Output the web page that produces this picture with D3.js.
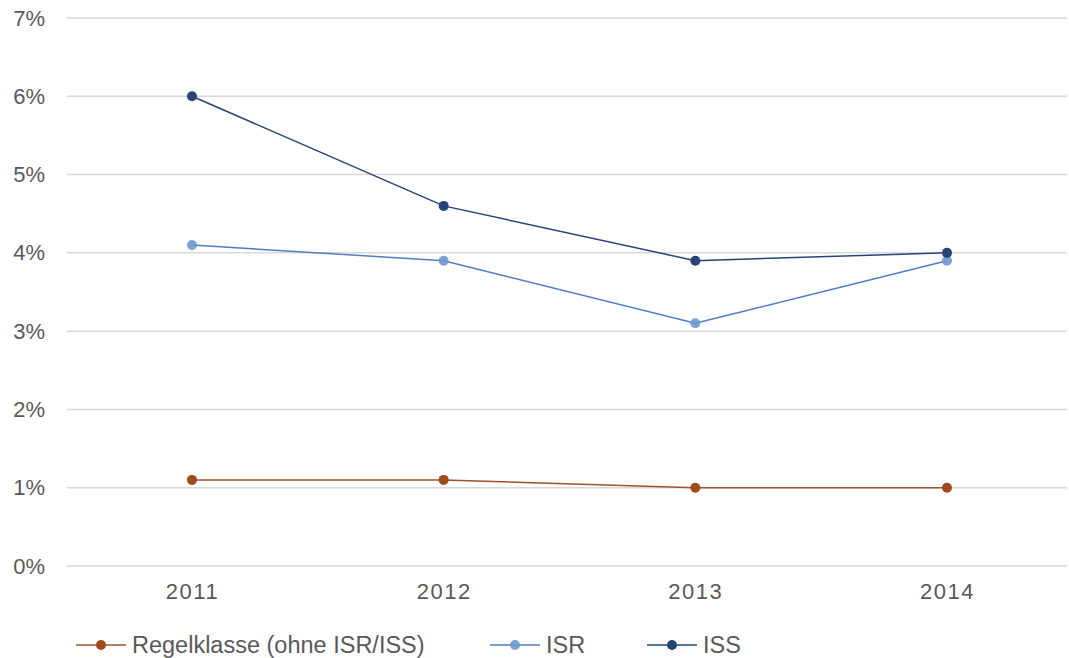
<!DOCTYPE html>
<html>
<head>
<meta charset="utf-8">
<script src="https://cdn.jsdelivr.net/npm/d3@7"></script>
<style>
  html, body { margin: 0; padding: 0; background: #fff; }
  svg { display: block; font-family: "Liberation Sans", Arial, sans-serif; }
</style>
</head>
<body>
<svg id="chart" width="1069" height="658"></svg>
<script>
// Anteil nach Schulart, 2011–2014
const years = ["2011", "2012", "2013", "2014"];
const regelklasse = [1.1, 1.1, 1.0, 1.0];
const isr = [4.1, 3.9, 3.1, 3.9];
const iss = [6.0, 4.6, 3.9, 4.0];
const yTicks = [0, 1, 2, 3, 4, 5, 6, 7];

const series = [
  { name: "Regelklasse (ohne ISR/ISS)", values: regelklasse, line: "#A0522D", fill: "#9E4A1E", fillOpacity: 1 },
  { name: "ISR", values: isr, line: "#4F7CC0", fill: "#7097CE", fillOpacity: 0.9 },
  { name: "ISS", values: iss, line: "#264478", fill: "#264478", fillOpacity: 1 }
];

const svg = d3.select("#chart");
const plotLeft = 67, plotRight = 1067;
const textColor = "#595959";

const x = d3.scalePoint().domain(years).range([192, 947]);
const y = d3.scaleLinear().domain([0, 7]).range([566, 18]);

// Gridlines
svg.append("g")
  .selectAll("line")
  .data(yTicks)
  .join("line")
  .attr("x1", plotLeft).attr("x2", plotRight)
  .attr("y1", d => y(d)).attr("y2", d => y(d))
  .attr("stroke", "#d9d9d9").attr("stroke-width", 1.5);

// Y axis labels
const yAxis = d3.axisLeft(y).tickValues(yTicks).tickFormat(d => d + "%").tickSize(0).tickPadding(0);
svg.append("g")
  .attr("transform", "translate(45,0)")
  .call(yAxis)
  .call(g => g.select(".domain").remove())
  .call(g => g.selectAll("text")
    .attr("font-size", 22).attr("fill", textColor)
    .attr("font-family", "'Liberation Sans', Arial, sans-serif"));

// X axis labels
const xAxis = d3.axisBottom(x).tickSize(0).tickPadding(0);
svg.append("g")
  .attr("transform", "translate(0,583)")
  .call(xAxis)
  .call(g => g.select(".domain").remove())
  .call(g => g.selectAll("text")
    .attr("font-size", 22).attr("fill", textColor)
    .attr("letter-spacing", "1.5px")
    .attr("font-family", "'Liberation Sans', Arial, sans-serif"));

// Lines and markers
const line = d3.line().x((d, i) => x(years[i])).y(d => y(d));
series.forEach(s => {
  svg.append("path")
    .attr("d", line(s.values))
    .attr("fill", "none")
    .attr("stroke", s.line)
    .attr("stroke-width", 1.5);
  svg.append("g")
    .selectAll("circle")
    .data(s.values)
    .join("circle")
    .attr("cx", (d, i) => x(years[i]))
    .attr("cy", d => y(d))
    .attr("r", 5)
    .attr("fill", s.fill)
    .attr("fill-opacity", s.fillOpacity);
});

// Legend
const legendX = [76, 490, 647];
const legend = svg.append("g").attr("transform", "translate(0,645)");
series.forEach((s, i) => {
  const g = legend.append("g").attr("transform", `translate(${legendX[i]},0)`);
  g.append("line").attr("x1", 0).attr("x2", 50).attr("y1", 0).attr("y2", 0)
    .attr("stroke", s.line).attr("stroke-width", 1.5);
  g.append("circle").attr("cx", 25).attr("cy", 0).attr("r", 5)
    .attr("fill", s.fill).attr("fill-opacity", s.fillOpacity);
  g.append("text").attr("x", 56).attr("y", 0).attr("dy", "0.35em")
    .attr("font-size", 23.5).attr("fill", textColor)
    .text(s.name);
});
</script>
</body>
</html>
